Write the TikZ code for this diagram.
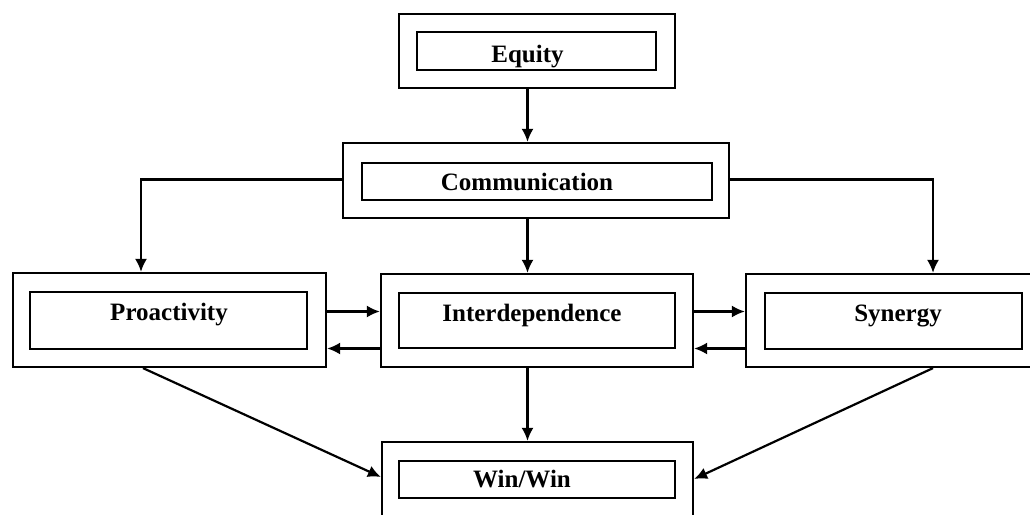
\documentclass[tikz,border=0pt]{standalone}
\usepackage{fontspec}
\setmainfont{Liberation Serif}
\usetikzlibrary{arrows.meta}

\tikzset{
  frame/.style={draw, line width=2.2pt, rectangle, inner sep=0pt},
  lbl/.style={font=\fontsize{25}{28}\selectfont\bfseries, anchor=base, inner sep=0pt},
  arr/.style={line width=2.2pt, -{Latex[length=13pt,width=12pt]}},
}

\begin{document}
\begin{tikzpicture}[x=1pt, y=-1pt]
  \useasboundingbox (0,0) rectangle (1030,514);

  % Equity
  \node[frame, minimum width=276pt, minimum height=74pt] (eqO) at (537,51) {};
  \node[frame, minimum width=239pt, minimum height=38pt] (eqI) at (536.5,51) {};
  \node[lbl] (eqT) at (527.5,62) {Equity};

  % Communication
  \node[frame, minimum width=386pt, minimum height=75pt] (comO) at (536,180.5) {};
  \node[frame, minimum width=350pt, minimum height=37pt] (comI) at (537,181.5) {};
  \node[lbl] (comT) at (527,190) {Communication};

  % Proactivity
  \node[frame, minimum width=313pt, minimum height=94pt] (proO) at (169.5,320) {};
  \node[frame, minimum width=277pt, minimum height=57pt] (proI) at (168.5,320.5) {};
  \node[lbl] (proT) at (169,320) {Proactivity};

  % Interdependence
  \node[frame, minimum width=312pt, minimum height=93pt] (intO) at (537,320.5) {};
  \node[frame, minimum width=276pt, minimum height=55pt] (intI) at (537,320.5) {};
  \node[lbl] (intT) at (532,321.5) {Interdependence};

  % Synergy
  \node[frame, minimum width=295pt, minimum height=93pt] (synO) at (893.5,320.5) {};
  \node[frame, minimum width=257pt, minimum height=56pt] (synI) at (893.5,321) {};
  \node[lbl] (synT) at (898,321.5) {Synergy};

  % Win/Win
  \node[frame, minimum width=311pt, minimum height=76pt] (winO) at (537.5,480) {};
  \node[frame, minimum width=276pt, minimum height=37pt] (winI) at (537,479.5) {};
  \node[lbl] (winT) at (522,487) {Win/Win};

  % guide positions for the connectors
  \coordinate (xMid) at (527.5,0);
  \coordinate (xL) at (141,0);
  \coordinate (xR) at (933,0);
  \coordinate (yCom) at (0,179.5);
  \coordinate (yHi) at (0,311.5);
  \coordinate (yLo) at (0,348.5);
  \coordinate (xDL) at (143,0);
  \coordinate (yWL) at (0,477);
  \coordinate (yWR) at (0,479);

  % vertical flow through the centre
  \draw[arr] (eqO.south -| xMid) -- (comO.north -| xMid);
  \draw[arr] (comO.south -| xMid) -- (intO.north -| xMid);
  \draw[arr] (intO.south -| xMid) -- (winO.north -| xMid);

  % branches from Communication
  \draw[arr] (comO.west |- yCom) -| (proO.north -| xL);
  \draw[arr] (comO.east |- yCom) -| (synO.north -| xR);

  % two-way links in the middle row
  \draw[arr] (proO.east |- yHi) -- (intO.west |- yHi);
  \draw[arr] (intO.west |- yLo) -- (proO.east |- yLo);
  \draw[arr] (intO.east |- yHi) -- (synO.west |- yHi);
  \draw[arr] (synO.west |- yLo) -- (intO.east |- yLo);

  % diagonals into Win/Win
  \draw[arr] (proO.south -| xDL) -- (winO.west |- yWL);
  \draw[arr] (synO.south -| xR) -- (winO.east |- yWR);
\end{tikzpicture}
\end{document}
